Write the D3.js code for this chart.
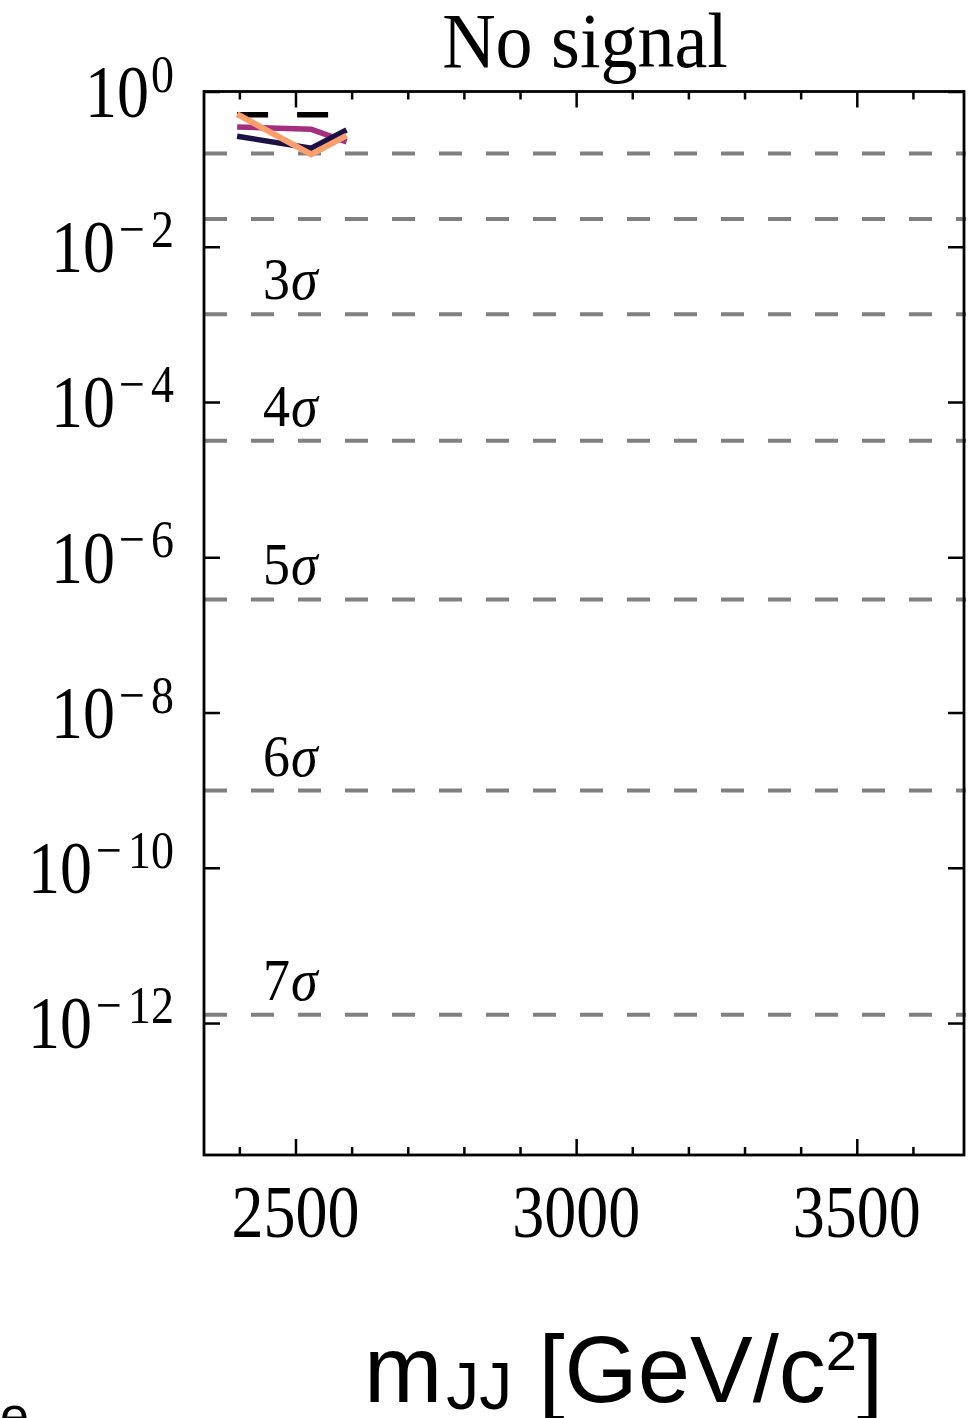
<!DOCTYPE html>
<meta charset="utf-8">
<title>No signal</title>
<style>
body {
    margin: 0;
    background: #fff;
  }
svg {
    display: block;
  }
.serif {
    font-family: "Liberation Serif", "DejaVu Serif", serif;
    fill: #000;
  }
.sans {
    font-family: "Liberation Sans", Arial, sans-serif;
    fill: #000;
  }
</style>
<body>
<script src="https://d3js.org/d3.v7.min.js"></script>
<script>

var width = 980,
    height = 1418;

// mass points of the scan
var mass = [2396, 2528, 2591];

// local p-values
var pDashed  = [0.5, 0.5, 0.5];
var pNavy    = [0.265, 0.186, 0.319];
var pMagenta = [0.349, 0.326, 0.225];
var pOrange  = [0.51, 0.155, 0.27];

// one sided p-values of the n sigma reference lines
var sigmaN = [1, 2, 3, 4, 5, 6, 7];
var sigmaP = [0.158655, 0.0227501, 1.3499e-3, 3.16712e-5, 2.86652e-7, 9.86588e-10, 1.27981e-12];
var sigmaLabelled = [3, 4, 5, 6, 7];

// tick labels
var xMajor = [2500, 3000, 3500];
var xMinor = [2400, 2600, 2700, 2800, 2900, 3100, 3200, 3300, 3400, 3600];
var yExponents = [0, -2, -4, -6, -8, -10, -12];

// plot box (note: "top" is taken by window.top)
var pLeft = 204, pRight = 964, pTop = 91.5, pBottom = 1155;

var x = d3.scaleLinear()
    .domain([2337, 3691])
    .range([pLeft, pRight]);

var y = d3.scaleLog()
    .domain([Math.pow(10, -13.70), 1])
    .range([pBottom, pTop]);

var svg = d3.select("body").append("svg")
    .attr("width", width)
    .attr("height", height);

// sigma reference lines
svg.append("g")
  .selectAll("line")
    .data(sigmaP)
  .enter().append("line")
    .attr("x1", pLeft)
    .attr("x2", pRight + 2)
    .attr("y1", function(d) { return y(d); })
    .attr("y2", function(d) { return y(d); })
    .attr("stroke", "#808080")
    .attr("stroke-width", 4)
    .attr("stroke-dasharray", "23,24");

// sigma labels (3 to 7)
sigmaLabelled.forEach(function(n) {
  var p = sigmaP[sigmaN.indexOf(n)];
  var t = svg.append("text")
      .attr("class", "serif")
      .attr("font-size", 54)
      .attr("transform", "translate(" + (pLeft + 59) + "," + (y(p) - 15) + ") scale(1,1.1)");
  t.append("tspan").text(n);
  t.append("tspan").attr("font-style", "italic").attr("dx", 1).text("σ");
});

// data lines
var line = d3.line()
    .x(function(d) { return x(d[0]); })
    .y(function(d) { return y(d[1]); });

var series = [
  {values: pDashed,  color: "#000000", width: 5.5, dash: "31,29"},
  {values: pMagenta, color: "#a3307e", width: 5.5, dash: null},
  {values: pNavy,    color: "#1c1044", width: 5.5, dash: null},
  {values: pOrange,  color: "#fd9f6c", width: 6, dash: null}
];

svg.append("g")
  .selectAll("path")
    .data(series)
  .enter().append("path")
    .attr("d", function(s) { return line(d3.zip(mass, s.values)); })
    .attr("fill", "none")
    .attr("stroke", function(s) { return s.color; })
    .attr("stroke-width", function(s) { return s.width; })
    .attr("stroke-dasharray", function(s) { return s.dash; })
    .attr("stroke-linejoin", "miter");

// ticks, all pointing inwards
function ticks(axis, tx, ty) {
  var g = svg.append("g")
      .attr("transform", "translate(" + tx + "," + ty + ")")
      .call(axis);
  g.select(".domain").remove();
  g.selectAll("text").remove();
  g.selectAll("line").attr("stroke", "#000").attr("stroke-width", 2.5);
}

ticks(d3.axisBottom(x).tickValues(xMajor).tickSize(-16).tickSizeOuter(0), 0, pBottom);
ticks(d3.axisBottom(x).tickValues(xMinor).tickSize(-8).tickSizeOuter(0), 0, pBottom);
ticks(d3.axisTop(x).tickValues(xMajor).tickSize(-16).tickSizeOuter(0), 0, pTop);
ticks(d3.axisTop(x).tickValues(xMinor).tickSize(-8).tickSizeOuter(0), 0, pTop);

var yTickValues = yExponents.map(function(e) { return Math.pow(10, e); });
ticks(d3.axisLeft(y).tickValues(yTickValues).tickSize(-16).tickSizeOuter(0), pLeft, 0);
ticks(d3.axisRight(y).tickValues(yTickValues).tickSize(-16).tickSizeOuter(0), pRight, 0);

// frame
svg.append("rect")
    .attr("x", pLeft)
    .attr("y", pTop)
    .attr("width", pRight - pLeft)
    .attr("height", pBottom - pTop)
    .attr("fill", "none")
    .attr("stroke", "#000")
    .attr("stroke-width", 2.8);

// x tick labels
xMajor.forEach(function(v) {
  svg.append("text")
      .attr("class", "serif")
      .attr("font-size", 64)
      .attr("text-anchor", "middle")
      .attr("transform", "translate(" + x(v) + "," + 1237 + ") scale(1,1.15)")
      .text(v);
});

// y tick labels 10^n
yExponents.forEach(function(e) {
  var t = svg.append("text")
      .attr("class", "serif")
      .attr("text-anchor", "end")
      .attr("transform", "translate(" + 174 + "," + y(Math.pow(10, e)) + ") scale(1,1.15)");
  t.append("tspan")
      .attr("font-size", 64)
      .attr("y", 22)
      .text("10");
  if (e < 0) {
    t.append("tspan")
        .attr("font-size", 46)
        .attr("dy", -22)
        .attr("dx", 4)
        .attr("letter-spacing", 6)
        .text("\u2212");
    t.append("tspan")
        .attr("font-size", 46)
        .text(-e);
  } else {
    t.append("tspan")
        .attr("font-size", 46)
        .attr("dy", -22)
        .attr("dx", 2)
        .text(e);
  }
});

// title
svg.append("text")
    .attr("class", "serif")
    .attr("font-size", 74)
    .attr("text-anchor", "middle")
    .attr("transform", "translate(585,67) scale(1,1.06)")
    .text("No signal");

// x axis label
var xl = svg.append("text")
    .attr("class", "sans")
    .attr("x", 364)
    .attr("y", 1402)
    .attr("font-size", 94);
xl.append("tspan").text("m");
xl.append("tspan").attr("font-size", 66).attr("dy", 7).attr("dx", 4).text("JJ");
xl.append("tspan").attr("dy", -7).text(" [GeV/c");
xl.append("tspan").attr("font-size", 56).attr("dy", -32).text("2");
xl.append("tspan").attr("dy", 32).text("]");

// cut off label of the neighbouring panel
svg.append("text")
    .attr("class", "sans")
    .attr("x", 0)
    .attr("y", 1433)
    .attr("font-size", 52)
    .text("e");

</script>
